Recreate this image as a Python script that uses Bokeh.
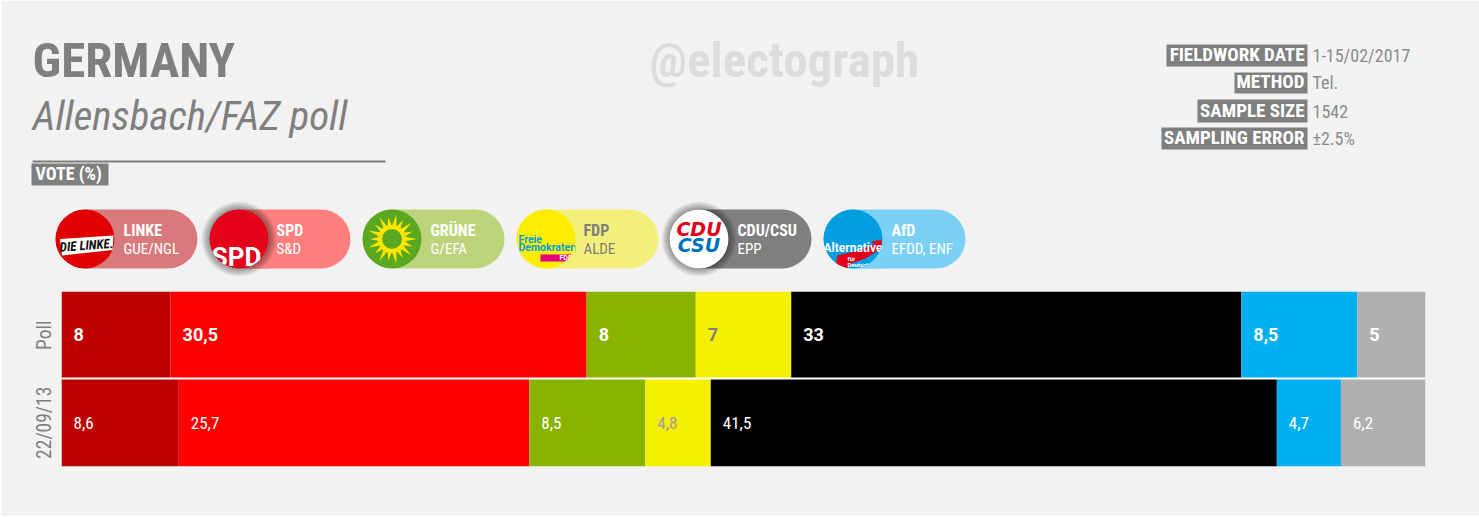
import math
import numpy as np
from bokeh.core.properties import value
from bokeh.embed import file_html
from bokeh.layouts import column
from bokeh.models import ColumnDataSource, FactorRange, Range1d, Span
from bokeh.plotting import figure
from bokeh.resources import INLINE

# ---- data -------------------------------------------------------------
title = "GERMANY"
subtitle = "Allensbach/FAZ poll"
section = "VOTE (%)"
watermark = "@electograph"
meta_labels = ["FIELDWORK DATE", "METHOD", "SAMPLE SIZE", "SAMPLING ERROR"]
meta_values = ["1-15/02/2017", "Tel.", "1542", "±2.5%"]
rows = ["22/09/13", "Poll"]
parties = ["LINKE", "SPD", "GRÜNE", "FDP", "CDU/CSU", "AfD", "Others"]
groups = ["GUE/NGL", "S&D", "G/EFA", "ALDE", "EPP", "EFDD, ENF"]
poll = [8, 30.5, 8, 7, 33, 8.5, 5]
poll_labels = ["8", "30,5", "8", "7", "33", "8,5", "5"]
election = [8.6, 25.7, 8.5, 4.8, 41.5, 4.7, 6.2]
election_labels = ["8,6", "25,7", "8,5", "4,8", "41,5", "4,7", "6,2"]
bar_colors = ["#bd0000", "#ff0000", "#88b300", "#f5ef00", "#000000", "#00b0f0", "#b0b0b0"]
poll_text_colors = ["white", "white", "white", "#7f7f7f", "white", "white", "white"]
election_text_colors = ["white", "white", "white", "#a0a0a0", "white", "white", "white"]
pill_colors = ["#d87a7c", "#ff7f7f", "#bdd47b", "#f3f07a", "#7f7f7f", "#7bd0f5"]
pill_text_colors = ["white", "white", "white", "#7f7f7f", "white", "white"]
logo_colors = ["#e00000", "#e3001b", "#5aa820", "#ffed00", "#ffffff", "#009ee0"]

BG = "#f2f2f2"
GREY = "#7f7f7f"
FONT = "Roboto Condensed, Roboto"
ROBOTO = "Roboto"
TOTAL_W, HEAD_H, BARS_H = 1477, 283, 233

# ---- header: ranges equal page pixels -----------------------------------
h = figure(width=TOTAL_W, height=HEAD_H, output_backend="svg", toolbar_location=None,
           x_range=Range1d(2, 2 + TOTAL_W), y_range=Range1d(1 + HEAD_H, 1),
           min_border=0, background_fill_color=BG, border_fill_color=BG,
           outline_line_color=None, frame_align=False)
h.axis.visible = False
h.grid.visible = False


def txt(fig, x, y, s, size, color, font=FONT, style="normal", align="left", angle=0.0):
    # y is the wanted baseline; the svg output draws alphabetic text 0.4 em low
    fig.text(x=[x], y=[y - 0.4 * size], text=[s], text_font=value(font),
             text_font_size=f"{size}px", text_font_style=style, text_color=color,
             text_align=align, text_baseline="alphabetic", angle=angle)


txt(h, 32, 80, title, 49, GREY, style="bold")
txt(h, 32, 132, subtitle, 41, GREY, style="italic")
txt(h, 649, 80, watermark, 49, "#dcdcdc", style="bold")
h.line([32, 385], [161, 161], line_color=GREY, line_width=2)
h.quad(left=[31], right=[108], top=[163], bottom=[185], fill_color=GREY, line_color=None)
txt(h, 35, 180, section, 18, "white", style="bold")

meta_left = [1166, 1234, 1197, 1161]
meta_top = [44, 72, 99, 127]
meta_bottom = [66, 93, 122, 149]
for i in range(4):
    h.quad(left=[meta_left[i]], right=[1307], top=[meta_top[i]], bottom=[meta_bottom[i]],
           fill_color=GREY, line_color=None)
    base = meta_bottom[i] - 4
    txt(h, 1304, base, meta_labels[i], 19, "white", style="bold", align="right")
    txt(h, 1312, base, meta_values[i], 18, "#8c8c8c")

# legend pills
pill_left = [55, 209, 362, 516, 669, 823]
pill_right = [197, 350, 504, 658, 811, 965]
text_x = [123, 276, 430, 583, 737, 891]
R = 29.5
CY = 238.5
for i in range(6):
    h.quad(left=[pill_left[i]], right=[pill_right[i]], top=[209], bottom=[268],
           fill_color=pill_colors[i], line_color=None, border_radius=30)
    h.circle(x=[pill_left[i] + R], y=[CY], radius=R, fill_color=logo_colors[i], line_color=None)
    txt(h, text_x[i], 236, parties[i], 16, pill_text_colors[i], style="bold")
    txt(h, text_x[i], 254, groups[i], 15, pill_text_colors[i])


def masks(i):
    """Hide whatever sticks out of logo i, as a round logo would clip it."""
    cx = pill_left[i] + R
    t = np.linspace(0, math.pi / 2, 24)
    rx = (cx + R * np.cos(t)).tolist() + [cx + R]
    ry = (CY + R * np.sin(t)).tolist() + [CY + R]
    h.patch(rx, ry, fill_color=pill_colors[i], line_color=None)
    lx = (cx - R * np.cos(t)).tolist() + [cx - R]
    h.patch(lx, ry, fill_color=BG, line_color=None)


def shadow(i):
    cx = pill_left[i] + R
    for k in range(1, 9):
        h.annulus(x=[cx], y=[CY], inner_radius=R, outer_radius=R + k,
                  fill_color="#000000", fill_alpha=0.05, line_color=None)


# Die Linke logo
h.patch([59.5, 113, 112, 61.5], [238.5, 235, 249.5, 255], fill_color="white", line_color=None)
txt(h, 86, 250, "DIE LINKE.", 13, "#111111", style="bold italic", align="center", angle=0.07)

# SPD logo
txt(h, 236, 267, "SPD", 26, "white", font=ROBOTO, style="bold", align="center")
masks(1)
shadow(1)

# Grüne logo
gx = pill_left[2] + R
petals = 18
for k in range(petals):
    a = 2 * math.pi * k / petals
    outer = 25 if k % 2 == 0 else 22
    w = 0.28
    px = [gx + 10 * math.cos(a - w), gx + outer * math.cos(a), gx + 10 * math.cos(a + w)]
    py = [CY + 10 * math.sin(a - w), CY + outer * math.sin(a), CY + 10 * math.sin(a + w)]
    h.patch(px, py, fill_color="#ffe500", line_color=None)
h.circle(x=[gx], y=[CY], radius=14, fill_color="#ffe500", line_color=None)
h.circle(x=[gx], y=[CY], radius=10, fill_color="#5aa820", line_color=None)

# FDP logo
txt(h, 518, 243, "Freie", 10.5, "#009ee0", font=ROBOTO, style="bold")
txt(h, 518, 251, "Demokraten", 10.5, "#009ee0", font=ROBOTO, style="bold")
h.quad(left=[540], right=[572], top=[254], bottom=[261], fill_color="#e5007d", line_color=None)
txt(h, 559, 260, "FDP", 7, "white", font=ROBOTO, style="bold")
masks(3)

# CDU/CSU logo
ux = pill_left[4] + R
shadow(4)
txt(h, ux, 236.5, "CDU", 19, "#e2001a", font="DejaVu Sans", style="bold italic", align="center")
txt(h, ux, 252.5, "CSU", 19, "#0072bc", font="DejaVu Sans", style="bold italic", align="center")

# AfD logo
h.patch([835, 837, 858, 873, 871, 881, 881, 865, 851, 846],
        [264, 255, 250, 244, 241, 239, 248, 258, 263, 268],
        fill_color="#e2001a", line_color=None)
txt(h, 852.5, 252, "Alternative", 12, "white", font=ROBOTO, style="bold", align="center")
txt(h, 847, 260, "für", 6, "white", font=ROBOTO, style="bold")
txt(h, 847, 266, "Deutschland", 6, "white", font=ROBOTO, style="bold")
masks(5)

# ---- bars: a real stacked chart with its own scales ---------------------
bars = figure(width=TOTAL_W, height=BARS_H, output_backend="svg", toolbar_location=None,
              x_range=Range1d(0, 100), y_range=FactorRange(factors=rows, range_padding=0),
              min_border_left=59, min_border_right=54, min_border_top=7, min_border_bottom=50,
              frame_width=1364, frame_height=175, frame_align=False,
              background_fill_color=BG, border_fill_color=BG, outline_line_color=None)
bars.xaxis.visible = False
bars.grid.visible = False
ax = bars.yaxis[0]
ax.axis_line_color = None
ax.major_tick_line_color = None
ax.minor_tick_line_color = None
ax.major_label_orientation = "parallel"
ax.major_label_standoff = 0
ax.major_label_text_color = GREY
ax.major_label_text_font = FONT
ax.major_label_text_font_size = "19.5px"

source = ColumnDataSource({"row": rows, **{p: [election[i], poll[i]] for i, p in enumerate(parties)}})
bars.hbar_stack(parties, y="row", height=1.0, color=bar_colors, line_color=None, source=source)
bars.add_layout(Span(location=1.006, dimension="width", line_color="white", line_width=2))

for row, vals, labels, colors, font, size, style, dy in [
    ("Poll", poll, poll_labels, poll_text_colors, ROBOTO, "18px", "bold", -1),
    ("22/09/13", election, election_labels, election_text_colors, FONT, "17px", "normal", 0),
]:
    starts = np.concatenate([[0], np.cumsum(vals)[:-1]]).tolist()
    bars.text(x=starts, y=[row] * 7, text=labels, text_color=colors, x_offset=12, y_offset=dy,
              text_font=value(font), text_font_size=size, text_font_style=style,
              text_align="left", text_baseline="middle")

page = column(h, bars, spacing=0)
page.styles = {"position": "absolute", "left": "2px", "top": "1px", "background-color": BG}
open("out.html", "w").write(file_html(page, INLINE))
